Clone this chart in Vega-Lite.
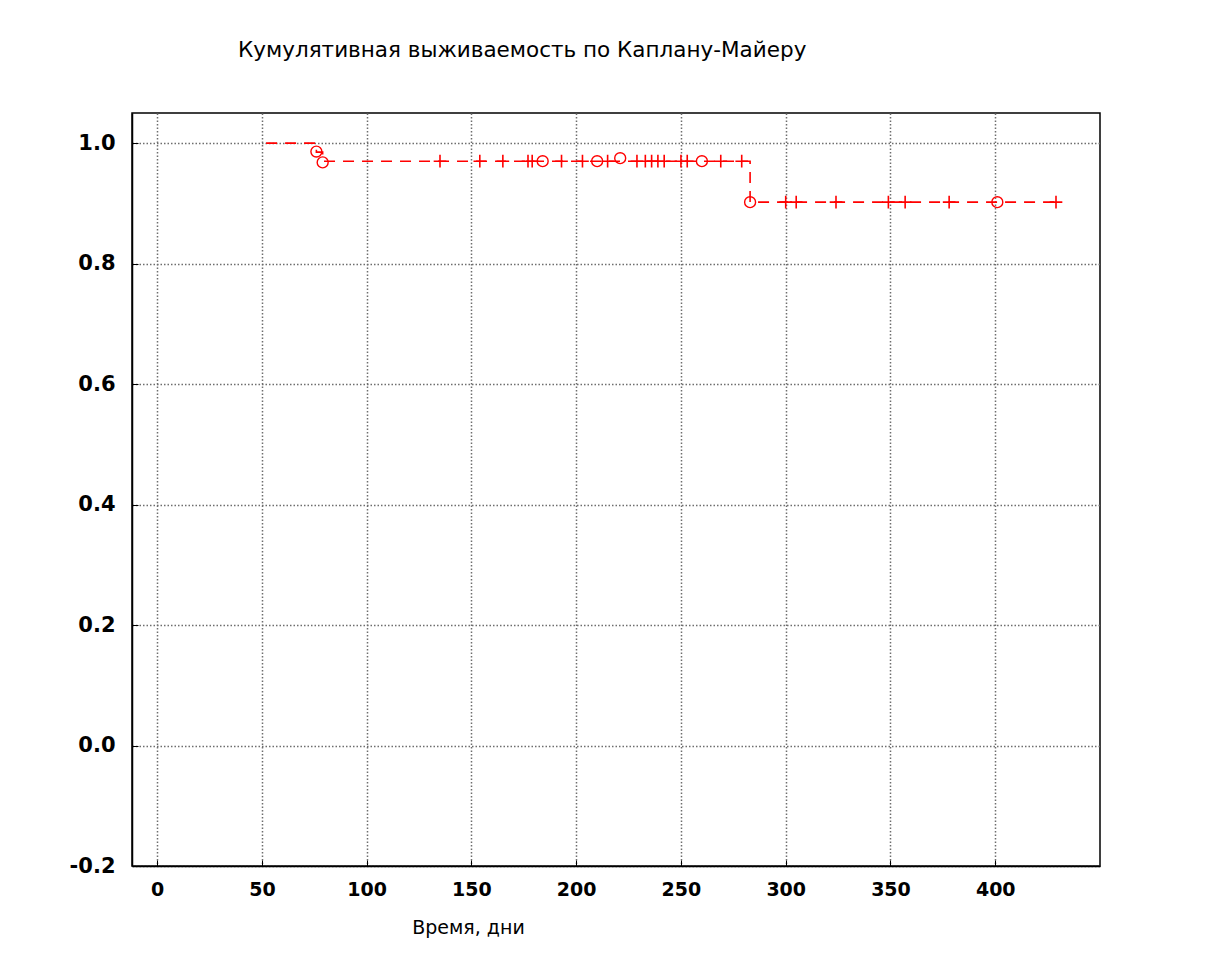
{
  "$schema": "https://vega.github.io/schema/vega-lite/v6.json",
  "autosize": {"type": "none"},
  "width": 968,
  "height": 753,
  "padding": {"left": 132, "top": 113, "right": 110, "bottom": 105},
  "background": "white",
  "title": {
    "text": "Кумулятивная выживаемость по Каплану-Майеру",
    "anchor": "start",
    "frame": "group",
    "dx": 106,
    "offset": 52,
    "font": "DejaVu Sans",
    "fontSize": 21.5,
    "fontWeight": "normal",
    "color": "#000000"
  },
  "config": {
    "view": {"stroke": "#000000", "strokeWidth": 1.5},
    "axis": {
      "labelFont": "DejaVu Sans",
      "titleFont": "DejaVu Sans",
      "labelColor": "#000000",
      "titleColor": "#000000",
      "domainColor": "#000000",
      "tickColor": "#000000",
      "gridColor": "#6e6e6e",
      "gridDash": [1.5, 2],
      "gridWidth": 1.5,
      "gridOpacity": 1
    }
  },
  "datasets": {
    "curve": [
      {"t": 52, "s": 1.0},
      {"t": 76, "s": 0.985},
      {"t": 79, "s": 0.97},
      {"t": 283, "s": 0.902},
      {"t": 429, "s": 0.902}
    ],
    "censored": [
      {"t": 135, "s": 0.97}, {"t": 154, "s": 0.97}, {"t": 165, "s": 0.97},
      {"t": 177, "s": 0.97}, {"t": 179, "s": 0.97}, {"t": 193, "s": 0.97},
      {"t": 203, "s": 0.97}, {"t": 215, "s": 0.97}, {"t": 229, "s": 0.97},
      {"t": 233, "s": 0.97}, {"t": 236, "s": 0.97}, {"t": 239, "s": 0.97},
      {"t": 242, "s": 0.97}, {"t": 250, "s": 0.97}, {"t": 253, "s": 0.97},
      {"t": 269, "s": 0.97}, {"t": 279, "s": 0.97},
      {"t": 300, "s": 0.902}, {"t": 305, "s": 0.902}, {"t": 324, "s": 0.902},
      {"t": 349, "s": 0.902}, {"t": 357, "s": 0.902}, {"t": 378, "s": 0.902},
      {"t": 429, "s": 0.902}
    ],
    "events": [
      {"t": 76, "s": 0.986}, {"t": 79, "s": 0.968}, {"t": 184, "s": 0.97},
      {"t": 210, "s": 0.97}, {"t": 221, "s": 0.975}, {"t": 260, "s": 0.97},
      {"t": 283, "s": 0.902}, {"t": 401, "s": 0.902}
    ]
  },
  "encoding": {
    "x": {
      "field": "t",
      "type": "quantitative",
      "scale": {"domain": [-12, 450], "nice": false, "zero": false},
      "axis": {
        "title": "Время, дни",
        "values": [0, 50, 100, 150, 200, 250, 300, 350, 400],
        "grid": true,
        "tickSize": -6,
        "labelPadding": 20,
        "labelFontSize": 19,
        "labelFontWeight": 600,
        "titleFontSize": 19,
        "titleFontWeight": "normal",
        "titleX": 336,
        "titleY": 52,
        "titleAlign": "center",
        "domainWidth": 1.5
      }
    },
    "y": {
      "field": "s",
      "type": "quantitative",
      "scale": {"domain": [-0.2, 1.05], "nice": false, "zero": false},
      "axis": {
        "title": null,
        "values": [-0.2, 0, 0.2, 0.4, 0.6, 0.8, 1.0],
        "labelExpr": "replace(format(datum.value, '.1f'), '−', '-')",
        "grid": true,
        "tickSize": -6,
        "labelPadding": 23,
        "labelFontSize": 21,
        "labelFontWeight": "bold",
        "domainWidth": 1.5
      }
    }
  },
  "layer": [
    {
      "data": {"name": "curve"},
      "mark": {"type": "line", "interpolate": "step-after", "color": "#ff0000", "strokeWidth": 1.6, "strokeDash": [11, 8]}
    },
    {
      "data": {"name": "censored"},
      "mark": {"type": "point", "shape": "M-1,0L1,0M0,-1L0,1", "color": "#ff0000", "strokeWidth": 1.6, "size": 160, "filled": false, "opacity": 1}
    },
    {
      "data": {"name": "events"},
      "mark": {"type": "point", "shape": "circle", "color": "#ff0000", "strokeWidth": 1.4, "size": 120, "filled": false, "opacity": 1}
    }
  ]
}
